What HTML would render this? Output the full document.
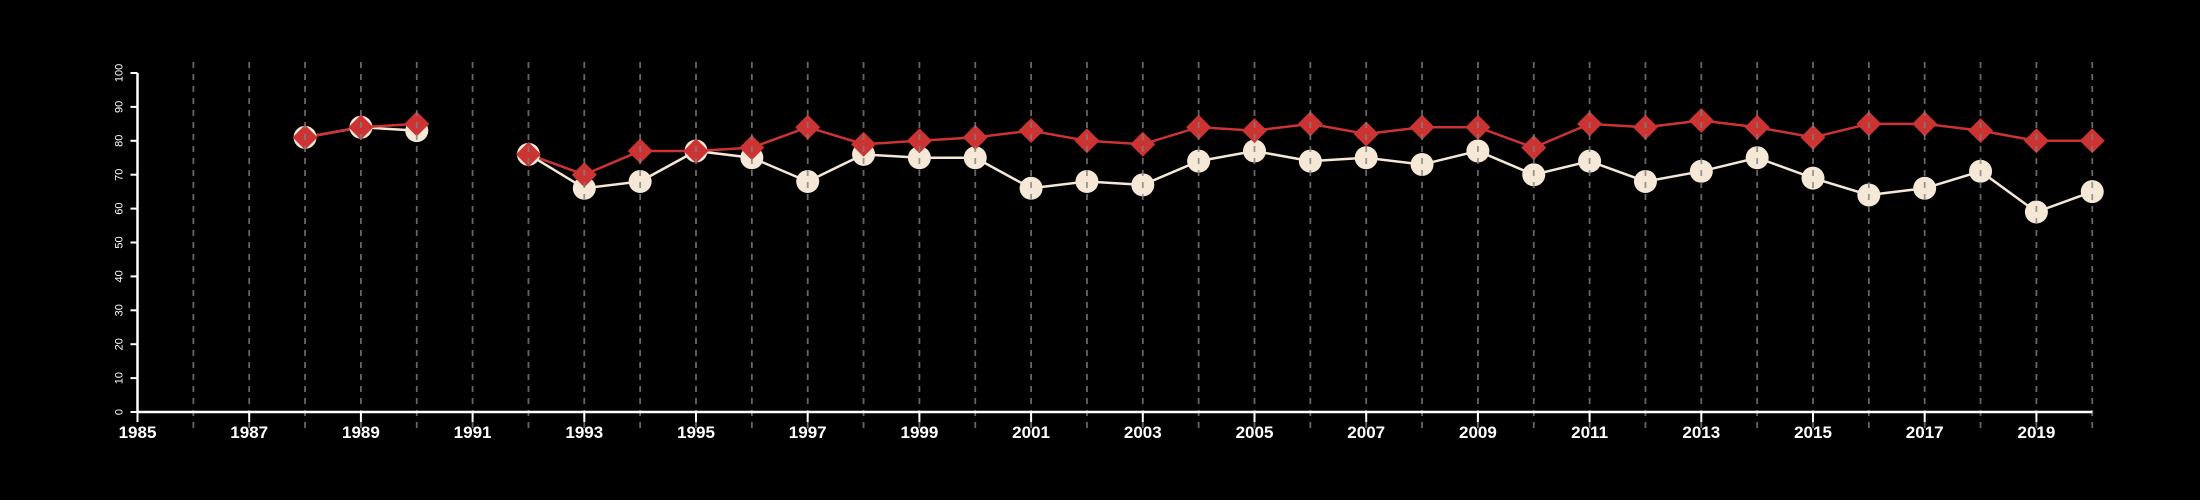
<!DOCTYPE html>
<html><head><meta charset="utf-8"><style>
html,body{margin:0;padding:0;background:#000;}
svg{display:block;}
text{font-family:"Liberation Sans",sans-serif;fill:#fff;}
</style></head><body>
<svg id="chart" width="2200" height="500" viewBox="0 0 2200 500" xmlns="http://www.w3.org/2000/svg">
<rect width="2200" height="500" fill="#000"/>
<g id="lines"></g><g id="marks"></g><g id="grid"></g><g id="axes"></g>
</svg>
<script>
const years = [1988,1989,1990,1991,1992,1993,1994,1995,1996,1997,1998,1999,2000,2001,2002,2003,2004,2005,2006,2007,2008,2009,2010,2011,2012,2013,2014,2015,2016,2017,2018,2019,2020];
const seriesCream = [81,84,83,null,76,66,68,77,75,68,76,75,75,66,68,67,74,77,74,75,73,77,70,74,68,71,75,69,64,66,71,59,65];
const seriesRed = [81,84,85,null,76,70,77,77,78,84,79,80,81,83,80,79,84,83,85,82,84,84,78,85,84,86,84,81,85,85,83,80,80];
const yTicks = [0,10,20,30,40,50,60,70,80,90,100];
const xLabels = [1985,1987,1989,1991,1993,1995,1997,1999,2001,2003,2005,2007,2009,2011,2013,2015,2017,2019];

const NS='http://www.w3.org/2000/svg';
const X0=137.5, XS=55.85, Y0=412, YS=3.39;
const xs = y => X0 + (y-1985)*XS;
const ys = v => Y0 - v*YS;
function mk(tag, attrs, parent){const e=document.createElementNS(NS,tag);for(const k in attrs)e.setAttribute(k,attrs[k]);parent.appendChild(e);return e;}
const G=id=>document.getElementById(id);

for(let yr=1986; yr<=2020; yr++){
  const l=mk('line',{x1:xs(yr),x2:xs(yr),y1:62,y2:428,stroke:'#808080','stroke-width':1.8,'stroke-dasharray':'6,6','stroke-opacity':0.8},G('grid'));
  
  
}
const ax=mk('line',{x1:xs(1985),x2:xs(2020),y1:Y0,y2:Y0,stroke:'#fff','stroke-width':2.5},G('axes'));


const ay=mk('line',{x1:X0,x2:X0,y1:ys(100),y2:Y0,stroke:'#fff','stroke-width':2.5},G('axes'));


yTicks.forEach(v=>{
  const t=mk('line',{x1:X0-7,x2:X0,y1:ys(v),y2:ys(v),stroke:'#fff','stroke-width':2},G('axes'));
  
  
  const tx=mk('text',{x:0,y:0,'font-size':11,'text-anchor':'middle',transform:`translate(${X0-18},${ys(v)}) rotate(-90)`,'dominant-baseline':'central'},G('axes'));
  tx.textContent=v;
  
  
});
xLabels.forEach(v=>{
  const t=mk('line',{x1:xs(v),x2:xs(v),y1:Y0,y2:Y0+10,stroke:'#fff','stroke-width':2},G('axes'));
  
  
  const tx=mk('text',{x:xs(v),y:438,'font-size':17,'font-weight':'bold','text-anchor':'middle'},G('axes'));
  tx.textContent=v;
  
  
});
function drawLine(vals,color,name){
  let seg=[];const segs=[];
  vals.forEach((v,i)=>{if(v==null){if(seg.length)segs.push(seg);seg=[];}else seg.push(xs(years[i])+','+ys(v));});
  if(seg.length)segs.push(seg);
  segs.forEach(s=>{
    const p=mk('polyline',{points:s.join(' '),fill:'none',stroke:color,'stroke-width':2.5},G('lines'));
    
    
  });
}
drawLine(seriesCream,'#f5e8d6','cream-series-line');
drawLine(seriesRed,'#cc3333','red-series-line');
seriesCream.forEach((v,i)=>{
  if(v==null)return;
  const c=mk('circle',{cx:xs(years[i]),cy:ys(v),r:11.5,fill:'#f5e8d6'},G('marks'));
  
  
});
seriesRed.forEach((v,i)=>{
  if(v==null)return;
  const x=xs(years[i]),y=ys(v),d=12.5;
  const p=mk('polygon',{points:`${x},${y-d} ${x+d},${y} ${x},${y+d} ${x-d},${y}`,fill:'#cc3333'},G('marks'));
  
  
});
</script>
</body></html>
